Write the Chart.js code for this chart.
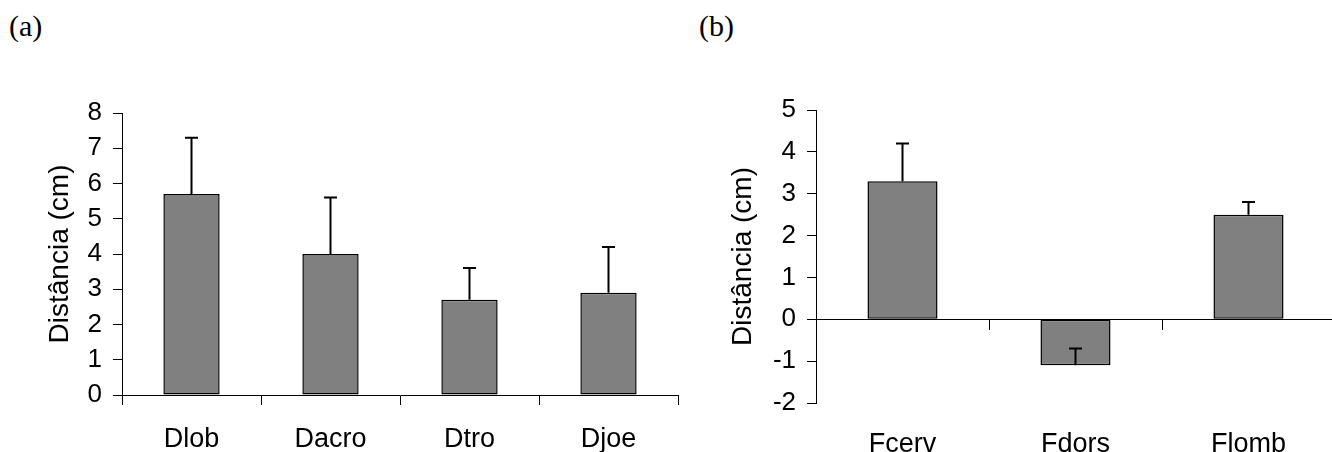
<!DOCTYPE html>
<html>
<head>
<meta charset="utf-8">
<script src="https://cdn.jsdelivr.net/npm/chart.js@4.4.1/dist/chart.umd.min.js"></script>
<style>
  html, body { margin: 0; padding: 0; background: #fff; overflow: hidden; width: 1332px; height: 452px; }
  .panel { position: absolute; top: 0; height: 452px; }
  .tag { position: absolute; top: 8px; font-family: "Liberation Serif", "Times New Roman", serif; font-size: 30px; line-height: 36px; color: #000; }
</style>
</head>
<body>
<div class="tag" style="left:9px;">(a)</div>
<div class="tag" style="left:699px;">(b)</div>
<div class="panel" style="left:0; width:700px;"><canvas id="ca" width="700" height="452"></canvas></div>
<div class="panel" style="left:700px; width:640px;"><canvas id="cb" width="640" height="452"></canvas></div>
<script>
// Panel (a)
const catsA = ["Dlob", "Dacro", "Dtro", "Djoe"];
const valsA = [5.7, 4.0, 2.7, 2.9];
const errA  = [1.6, 1.6, 0.9, 1.3];
const ticksA = [0, 1, 2, 3, 4, 5, 6, 7, 8];
// Panel (b)
const catsB = ["Fcerv", "Fdors", "Flomb"];
const valsB = [3.3, -1.1, 2.5];
const errB  = [0.9, 0.4, 0.3];
const ticksB = [-2, -1, 0, 1, 2, 3, 4, 5];

const yTitle = "Distância (cm)";
const FONT = "'Liberation Sans', Arial, sans-serif";

const errorBars = {
  id: 'errorBars',
  afterDatasetsDraw(chart, args, opts) {
    const ctx = chart.ctx;
    const meta = chart.getDatasetMeta(0);
    const ys = chart.scales.y;
    const vals = chart.data.datasets[0].data;
    ctx.save();
    ctx.strokeStyle = '#000';
    ctx.lineWidth = 2;
    meta.data.forEach((bar, i) => {
      const x = bar.x;
      const y0 = ys.getPixelForValue(vals[i]);
      const y1 = ys.getPixelForValue(vals[i] + opts.err[i]);
      ctx.beginPath();
      ctx.moveTo(x, y0);
      ctx.lineTo(x, y1);
      ctx.moveTo(x - 6.5, y1);
      ctx.lineTo(x + 6.5, y1);
      ctx.stroke();
    });
    ctx.restore();
  }
};

function makeChart(id, cats, vals, errs, ticks, cfg) {
  return new Chart(document.getElementById(id), {
    type: 'bar',
    data: {
      labels: cats,
      datasets: [{
        data: vals,
        backgroundColor: '#808080',
        borderColor: '#000',
        borderWidth: 1.5,
        borderSkipped: false,
        categoryPercentage: 1,
        barPercentage: 0.405
      }]
    },
    options: {
      responsive: false,
      animation: false,
      layout: { padding: cfg.padding },
      plugins: { legend: { display: false }, tooltip: { enabled: false }, errorBars: { err: errs } },
      scales: {
        x: {
          position: cfg.xPos,
          offset: true,
          grid: { display: true, drawOnChartArea: false, drawTicks: true, tickLength: 10, color: '#000', lineWidth: 1, offset: true },
          border: { display: true, color: '#000', width: 1 },
          ticks: { color: '#000', font: { family: FONT, size: 27 }, padding: cfg.xPad, maxRotation: 0 },
          afterFit(s) {
            if (cfg.xHeight) s.height = cfg.xHeight;
            s.paddingLeft = 0; s.paddingRight = 0;
          }
        },
        y: {
          min: ticks[0],
          max: ticks[ticks.length - 1],
          afterBuildTicks(s) { s.ticks = ticks.map(v => ({ value: v })); },
          grid: { display: true, drawOnChartArea: false, drawTicks: true, tickLength: 9, color: '#000', lineWidth: 1 },
          border: { display: true, color: '#000', width: 1 },
          ticks: { color: '#000', font: { family: FONT, size: 26 }, padding: 11 },
          title: { display: true, text: yTitle, color: '#000', font: { family: FONT, size: 28 }, padding: { top: 4, bottom: 4 } },
          afterFit(s) { s.width = cfg.yWidth; s.paddingTop = 0; s.paddingBottom = 0; }
        }
      }
    },
    plugins: [errorBars]
  });
}

makeChart('ca', catsA, valsA, errA, ticksA, {
  padding: { left: 39, top: 113, right: 22, bottom: 0 },
  yWidth: 83, xHeight: 57, xPad: 18, xPos: 'bottom'
});
makeChart('cb', catsB, valsB, errB, ticksB, {
  padding: { left: 22, top: 110, right: 5, bottom: 49 },
  yWidth: 94, xHeight: null, xPad: 99, xPos: { y: 0 }
});
</script>
</body>
</html>
